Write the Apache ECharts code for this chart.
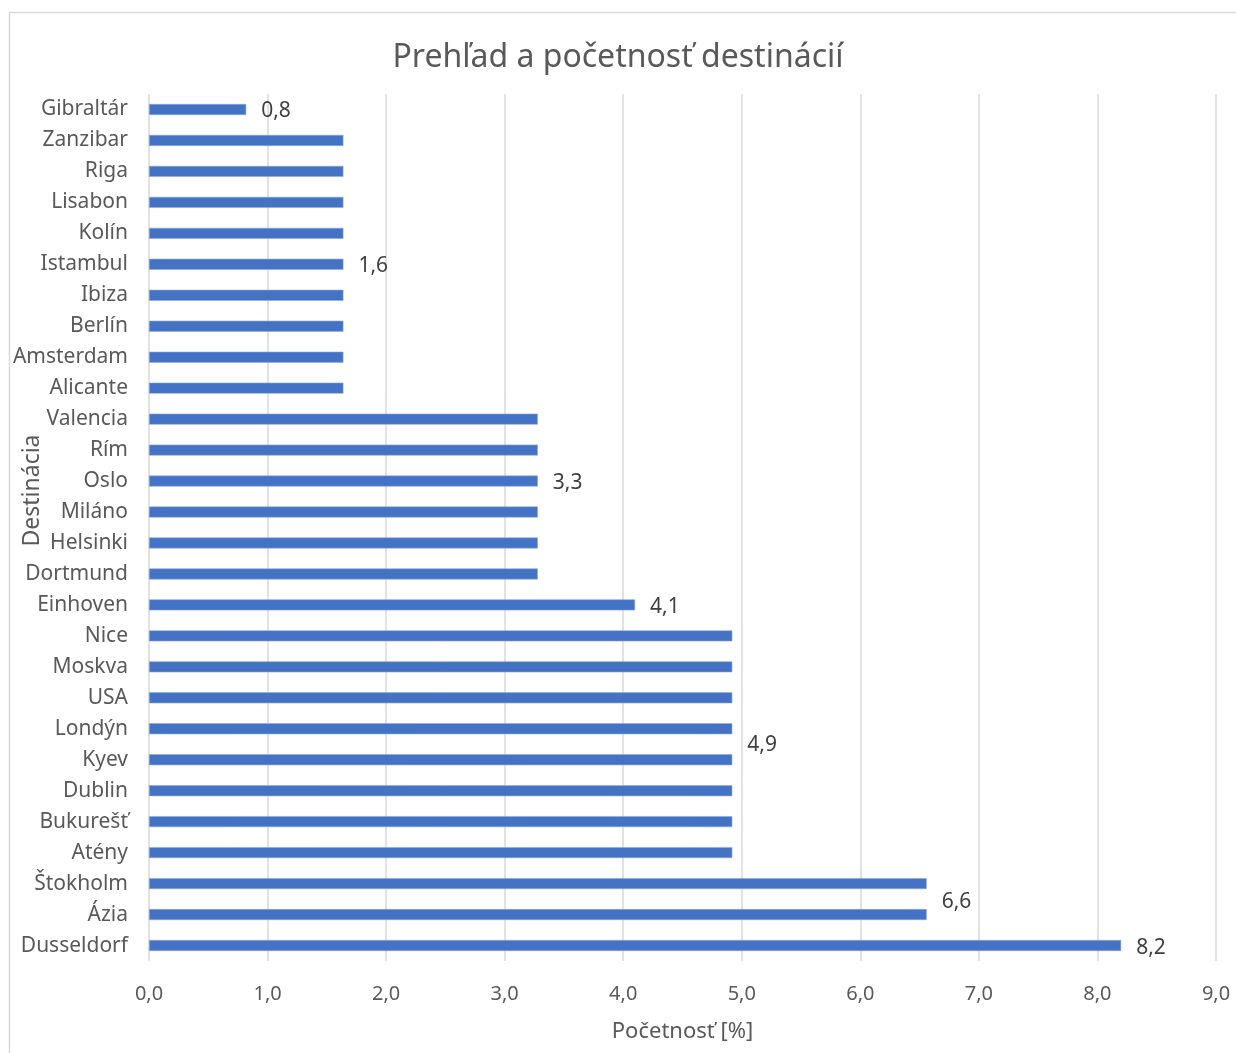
<!DOCTYPE html>
<html>
<head>
<meta charset="utf-8">
<title>Prehľad a početnosť destinácií</title>
<script src="https://cdn.jsdelivr.net/npm/echarts@6/dist/echarts.min.js"></script>
<style>
  html, body { margin: 0; padding: 0; background: #fff; }
  #chart { width: 1236px; height: 1053px; }
</style>
</head>
<body>
<div id="chart"></div>
<script>
// categories top to bottom, as in the picture
const destinations = [
  "Gibraltár", "Zanzibar", "Riga", "Lisabon", "Kolín", "Istambul", "Ibiza",
  "Berlín", "Amsterdam", "Alicante", "Valencia", "Rím", "Oslo", "Miláno",
  "Helsinki", "Dortmund", "Einhoven", "Nice", "Moskva", "USA", "Londýn",
  "Kyev", "Dublin", "Bukurešť", "Atény", "Štokholm", "Ázia", "Dusseldorf"
];
// početnosť [%]
const shares = [
  0.82, 1.64, 1.64, 1.64, 1.64, 1.64, 1.64,
  1.64, 1.64, 1.64, 3.28, 3.28, 3.28, 3.28,
  3.28, 3.28, 4.10, 4.92, 4.92, 4.92, 4.92,
  4.92, 4.92, 4.92, 4.92, 6.56, 6.56, 8.20
];
// only these bars carry a data label
const labelled = ["Gibraltár", "Istambul", "Oslo", "Einhoven", "Kyev", "Ázia", "Dusseldorf"];
const xTicks = [0, 1, 2, 3, 4, 5, 6, 7, 8, 9];

const FONT = "Noto Sans";
const TXT = "#595959";

// Excel put two labels a bit higher than their bar
const labelLift = { "Kyev": -17, "Ázia": -15 };

const chartDom = document.getElementById("chart");
const myChart = echarts.init(chartDom);

const barData = shares.map((v, i) => {
  const name = destinations[i];
  const item = { value: v };
  if (labelled.indexOf(name) >= 0) {
    item.label = {
      show: true,
      position: "right",
      distance: 15,
      offset: [0, (labelLift[name] || 0) + 2],
      formatter: (p) => p.value.toFixed(1).replace(".", ","),
      fontFamily: FONT,
      fontSize: 21,
      color: "#404040"
    };
  }
  return item;
});

const option = {
  animation: false,
  backgroundColor: "#ffffff",
  graphic: [
    {
      type: "rect",
      shape: { x: 9.5, y: 12.5, width: 1240, height: 1050 },
      style: { fill: "none", stroke: "#d9d9d9", lineWidth: 1.5 },
      silent: true
    }
  ],
  title: {
    text: "Prehľad a početnosť destinácií",
    left: "center",
    top: 37,
    textStyle: {
      fontFamily: FONT,
      fontSize: 32,
      fontWeight: "normal",
      color: TXT
    }
  },
  grid: {
    left: 149,
    right: 20,
    top: 94,
    bottom: 92,
    containLabel: false,
    outerBoundsMode: "none"
  },
  xAxis: {
    type: "value",
    min: xTicks[0],
    max: xTicks[xTicks.length - 1],
    interval: 1,
    name: "Početnosť [%]",
    nameLocation: "middle",
    nameGap: 60,
    nameMoveOverlap: false,
    nameTextStyle: { fontFamily: FONT, fontSize: 22, color: TXT },
    axisLine: { show: false },
    axisTick: { show: false },
    axisLabel: {
      margin: 23,
      fontFamily: FONT,
      fontSize: 20,
      color: TXT,
      formatter: (v) => v.toFixed(1).replace(".", ",")
    },
    splitLine: { show: true, lineStyle: { color: "#d9d9d9", width: 1.5 } }
  },
  yAxis: {
    type: "category",
    data: destinations,
    inverse: true,
    name: "Destinácia",
    nameLocation: "middle",
    nameGap: 105,
    nameRotate: 90,
    nameMoveOverlap: false,
    nameTextStyle: {
      fontFamily: FONT,
      fontSize: 23,
      color: TXT,
      padding: [0, 0, 0, 74] // Excel sits the title a bit above the middle
    },
    axisLine: { show: false },
    axisTick: { show: false },
    axisLabel: {
      margin: 21,
      fontFamily: FONT,
      fontSize: 21,
      color: TXT
    },
    splitLine: { show: false }
  },
  series: [
    {
      type: "bar",
      data: barData,
      barWidth: 11,
      itemStyle: {
        color: "#4472c4",
        borderColor: "#8faadc",
        borderWidth: 0.6
      }
    }
  ]
};

option && myChart.setOption(option);
</script>
</body>
</html>
